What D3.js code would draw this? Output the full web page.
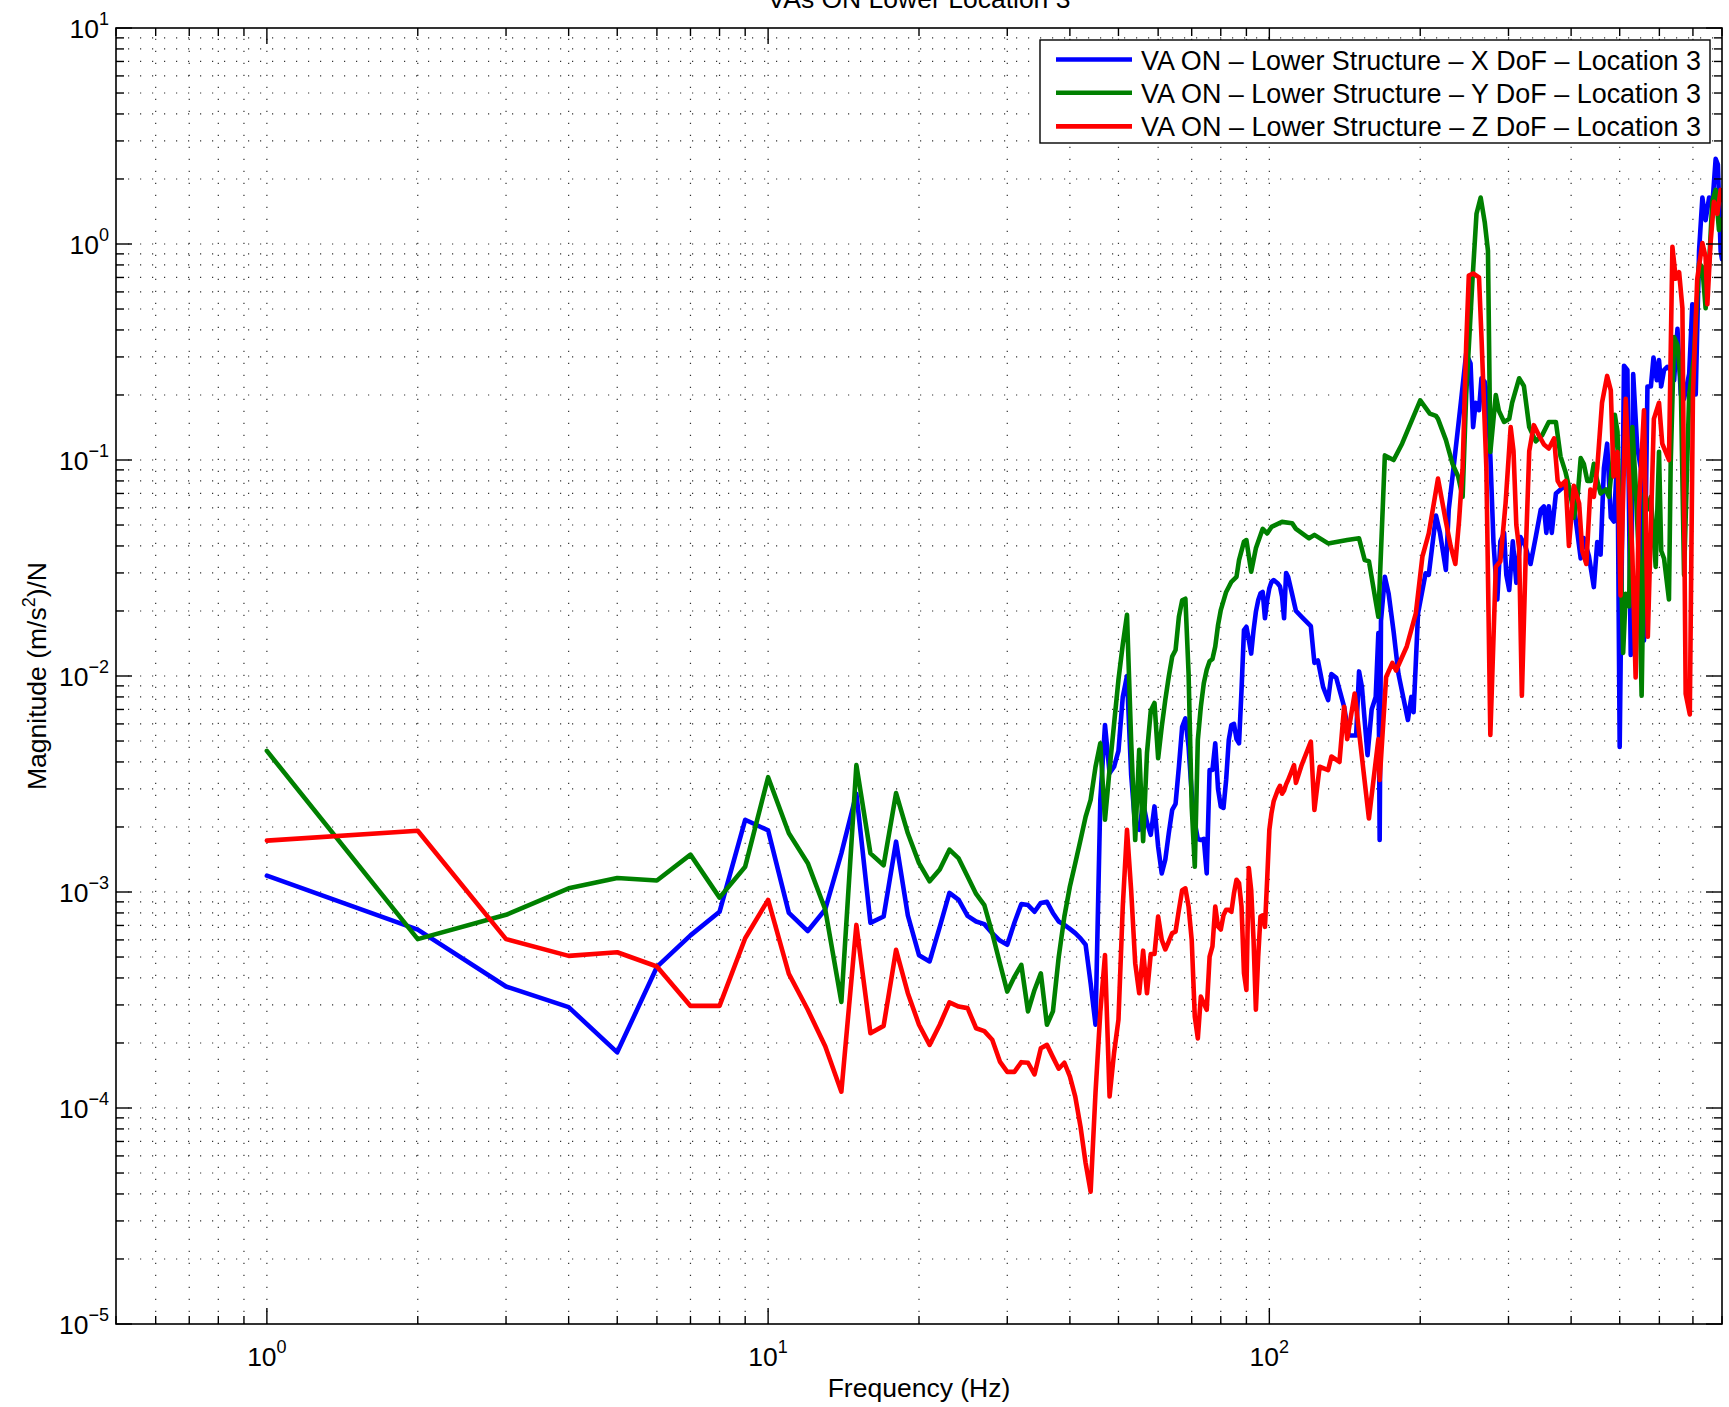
<!DOCTYPE html>
<html><head><meta charset="utf-8">
<script src="https://cdn.jsdelivr.net/npm/d3@7"></script>
<style>
body{margin:0;background:#fff}
svg{display:block}
text{font-family:"Liberation Sans",Arial,Helvetica,sans-serif;fill:#000}
</style>
</head><body>
<svg id="chart" width="1729" height="1407"></svg>
<script>
// ---------------- DATA ----------------
const titleText = "VAs ON Lower Location 3";
const xLabelText = "Frequency (Hz)";
const seriesNames = [
  "VA ON \u2013 Lower Structure \u2013 X DoF \u2013 Location 3",
  "VA ON \u2013 Lower Structure \u2013 Y DoF \u2013 Location 3",
  "VA ON \u2013 Lower Structure \u2013 Z DoF \u2013 Location 3"
];
const seriesColors = ["#0000ff", "#008000", "#ff0000"];
const xMajorTicks = [1, 10, 100];
const xTickExponents = ["0", "1", "2"];
const yMajorTicks = [1e-5, 1e-4, 1e-3, 1e-2, 1e-1, 1, 10];
const yTickExponents = ["\u22125", "\u22124", "\u22123", "\u22122", "\u22121", "0", "1"];

const freqX = [1,2,3,4,5,6,7,8,9,10,11,12,13,14,15,16,17,18,19,20,21,22,23,24,25,26,27,28,29,30,
 31,32,33,34,35,36,37,38,39,40,41,42,43,44,45,46,47,48,49,50,51,52,53,54,55,56,57,58,59,60,
 61,62,63,64,65,66,67,68,69,70,71,72,73,74,75,76,77,78,79,80,81,82,83,84,85,86,87,88,89,90,
 91,92,93,94,95,96,97,98,99,100,101,102,103,104,105,106,107,108,109,
 111,113,116,121,123,125,128,131,133,136,141,144,149,151,153,157,160,163,165,166,167,170,173,177,181,189,192,194,198,205,
 208,215,219,225,228,235,241,247,252,255,258,262,265,269,272,276,280,285,289,294,297,301,306,311,317,324,332,340,348,353,
 357,361,366,373,381,390,399,405,418,424,434,444,451,458,465,472,480,487,495,500,510,518,526,532,542,551,559,568,577,584,
 593,599,605,613,622,632,642,652,662,672,688,698,709,720,731,742,754,765,777,785,795,800];
const magX = [1.19e-3,6.7e-4,3.65e-4,2.93e-4,1.81e-4,4.5e-4,6.3e-4,8.1e-4,2.16e-3,1.93e-3,
 8.0e-4,6.6e-4,8.3e-4,1.51e-3,2.85e-3,7.2e-4,7.7e-4,1.71e-3,7.8e-4,5.1e-4,
 4.77e-4,6.9e-4,9.9e-4,9.2e-4,7.75e-4,7.3e-4,7.1e-4,6.45e-4,5.96e-4,5.7e-4,
 7.2e-4,8.8e-4,8.7e-4,8.1e-4,8.9e-4,9.0e-4,8.0e-4,7.3e-4,7.05e-4,6.75e-4,
 6.45e-4,6.1e-4,5.7e-4,3.78e-4,2.43e-4,2.67e-3,5.93e-3,3.55e-3,3.8e-3,4.5e-3,
 8.0e-3,1.0e-2,3.5e-3,2.01e-3,1.94e-3,2.58e-3,2.1e-3,1.84e-3,2.49e-3,1.62e-3,
 1.22e-3,1.41e-3,1.87e-3,2.4e-3,2.56e-3,3.8e-3,5.82e-3,6.36e-3,4.71e-3,2.87e-3,
 2.1e-3,1.76e-3,1.74e-3,1.76e-3,1.22e-3,3.67e-3,3.67e-3,4.88e-3,3.0e-3,2.49e-3,
 2.45e-3,3.3e-3,5.06e-3,5.93e-3,6.0e-3,5.1e-3,4.88e-3,8.6e-3,1.63e-2,1.69e-2,
 1.47e-2,1.27e-2,1.63e-2,1.98e-2,2.24e-2,2.41e-2,2.45e-2,1.85e-2,2.24e-2,2.55e-2,
 2.73e-2,2.78e-2,2.73e-2,2.68e-2,2.6e-2,2.33e-2,1.85e-2,3.0e-2,2.88e-2,
 2.4e-2,2.0e-2,1.88e-2,1.7e-2,1.15e-2,1.18e-2,8.9e-3,7.74e-3,1.02e-2,9.8e-3,7.2e-3,5.3e-3,5.3e-3,1.05e-2,8.9e-3,4.3e-3,7.0e-3,8.0e-3,1.58e-2,1.74e-3,1.8e-2,2.88e-2,2.4e-2,1.6e-2,1.02e-2,6.26e-3,8.0e-3,6.8e-3,1.95e-2,2.99e-2,
 2.94e-2,5.53e-2,4.6e-2,3.1e-2,5.9e-2,0.109,0.184,0.311,0.28,0.142,0.184,0.17,0.239,0.23,0.2,0.104,4.17e-2,2.26e-2,4.2e-2,4.6e-2,2.94e-2,2.5e-2,4.2e-2,2.7e-2,4.4e-2,4.0e-2,3.3e-2,4.4e-2,5.9e-2,6.1e-2,
 4.6e-2,6.1e-2,4.6e-2,7.0e-2,7.3e-2,7.6e-2,6.75e-2,6.2e-2,3.5e-2,4.35e-2,3.6e-2,2.58e-2,4.17e-2,3.65e-2,9.15e-2,0.119,5.42e-2,5.19e-2,0.109,4.69e-3,0.273,0.261,1.25e-2,0.25,0.114,9.15e-2,1.46e-2,0.219,0.219,0.298,
 0.234,0.29,0.219,0.261,0.27,0.261,0.234,0.405,0.201,0.192,0.25,0.526,0.201,0.928,1.64,1.29,1.64,1.5,2.48,2.33,0.928,0.85];

const freqY = [1,2,3,4,5,6,7,8,9,10,11,12,13,14,15,16,17,18,19,20,21,22,23,24,25,26,27,28,29,30,
 31,32,33,34,35,36,37,38,39,40,41,42,43,44,45,46,47,48,49,50,51,52,53,54,55,56,57,58,59,60,
 61,62,63,64,65,66,67,68,69,70,71,72,73,74,75,76,77,78,79,80,
 82,84,86,87,89,90,92,94,97,99,101,106,111,113,120,123,131,143,151,155,158,165,170,177,184,200,209,215,217,225,
 232,238,243,247,254,259,264,269,273,276,283,287,294,301,305,315,322,330,340,350,361,373,381,390,399,405,412,418,424,431,
 438,444,451,458,469,476,484,489,495,502,508,514,522,530,538,546,553,561,568,577,590,599,605,613,627,632,642,652,662,672,
 688,703,720,731,742,754,765,777,789,800];
const magY = [4.5e-3,6.05e-4,7.84e-4,1.04e-3,1.16e-3,1.13e-3,1.49e-3,9.42e-4,1.31e-3,3.4e-3,
 1.87e-3,1.36e-3,8.3e-4,3.1e-4,3.87e-3,1.51e-3,1.33e-3,2.87e-3,1.87e-3,1.36e-3,
 1.12e-3,1.27e-3,1.57e-3,1.43e-3,1.18e-3,9.8e-4,8.7e-4,6.45e-4,4.68e-4,3.46e-4,
 4.05e-4,4.6e-4,2.8e-4,3.52e-4,4.2e-4,2.43e-4,2.8e-4,5.0e-4,7.7e-4,1.06e-3,
 1.36e-3,1.74e-3,2.23e-3,2.67e-3,3.8e-3,4.88e-3,2.16e-3,3.7e-3,6.0e-3,9.6e-3,
 1.4e-2,1.92e-2,5.0e-3,1.74e-3,4.55e-3,1.72e-3,4.4e-3,6.9e-3,7.5e-3,4.16e-3,
 5.82e-3,7.74e-3,9.93e-3,1.23e-2,1.32e-2,1.88e-2,2.24e-2,2.28e-2,1.03e-2,2.49e-3,
 1.31e-3,5.06e-3,7.21e-3,9.25e-3,1.07e-2,1.17e-2,1.2e-2,1.37e-2,1.72e-2,2.02e-2,
 2.45e-2,2.73e-2,2.88e-2,3.44e-2,4.19e-2,4.26e-2,3.04e-2,3.9e-2,4.8e-2,4.57e-2,4.9e-2,5.17e-2,5.1e-2,4.8e-2,4.34e-2,4.5e-2,4.11e-2,4.26e-2,4.34e-2,3.44e-2,3.4e-2,1.88e-2,0.105,0.1,0.119,0.189,0.164,0.16,0.155,0.124,
 9.6e-2,8.4e-2,6.75e-2,0.2,0.655,1.38,1.64,1.26,0.93,0.109,0.2,0.169,0.15,0.155,0.184,0.239,0.22,0.142,0.122,0.13,0.15,0.15,0.104,8.76e-2,7.0e-2,5.4e-2,6.75e-2,0.102,9.6e-2,8.0e-2,
 8.0e-2,9.6e-2,8.0e-2,7.0e-2,7.3e-2,6.75e-2,0.1,0.162,0.135,3.8e-2,1.28e-2,2.4e-2,2.1e-2,0.142,7.7e-2,3.5e-2,8.1e-3,7.0e-2,5.9e-2,6.75e-2,3.2e-2,0.109,3.8e-2,3.5e-2,2.26e-2,9.6e-2,0.371,0.34,0.23,2.94e-2,
 0.2,0.298,0.814,0.78,0.504,0.81,1.57,1.78,1.16,1.3];

const freqZ = [1,2,3,4,5,6,7,8,9,10,11,12,13,14,15,16,17,18,19,20,21,22,23,24,25,26,27,28,29,30,
 31,32,33,34,35,36,37,38,39,40,41,42,43,44,45,46,47,48,49,50,51,52,53,54,55,56,57,58,59,60,
 61,62,63,64,65,66,67,68,69,70,71,72,73,74,75,76,77,78,79,80,81,82,83,84,85,86,87,88,89,90,
 91,92,93,94,95,96,97,98,99,100,101,102,103,104,105,106,107,108,109,
 112,113,116,121,123,126,131,133,138,141,143,148,151,158,165,166,171,176,179,188,196,202,208,217,225,230,235,239,243,247,
 250,255,262,265,271,276,283,289,296,303,307,311,315,319,325,330,337,345,353,361,370,376,381,390,396,405,415,421,429,437,
 444,451,461,472,480,486,495,502,514,522,530,538,546,559,569,585,599,608,627,637,647,657,667,677,690,700,714,731,742,748,
 759,771,783,795,800];
const magZ = [1.73e-3,1.92e-3,6.05e-4,5.06e-4,5.26e-4,4.52e-4,2.97e-4,2.97e-4,6.11e-4,9.19e-4,
 4.18e-4,2.85e-4,1.93e-4,1.19e-4,7.04e-4,2.22e-4,2.4e-4,5.4e-4,3.4e-4,2.43e-4,
 1.96e-4,2.43e-4,3.08e-4,2.95e-4,2.9e-4,2.34e-4,2.27e-4,2.07e-4,1.64e-4,1.47e-4,
 1.47e-4,1.63e-4,1.62e-4,1.43e-4,1.89e-4,1.96e-4,1.72e-4,1.52e-4,1.62e-4,1.4e-4,
 1.13e-4,8.2e-5,5.56e-5,4.1e-5,1.18e-4,2.78e-4,5.1e-4,1.13e-4,1.8e-4,2.56e-4,
 8.56e-4,1.94e-3,1.02e-3,4.68e-4,3.4e-4,5.35e-4,3.4e-4,5.16e-4,5.16e-4,7.7e-4,
 6.0e-4,5.42e-4,5.9e-4,6.45e-4,6.55e-4,8.27e-4,1.02e-3,1.04e-3,8.56e-4,6.0e-4,
 2.65e-4,2.1e-4,3.28e-4,3.05e-4,2.85e-4,5.02e-4,5.6e-4,8.56e-4,6.92e-4,6.7e-4,
 7.8e-4,8.27e-4,8.27e-4,8.1e-4,9.87e-4,1.14e-3,1.1e-3,8.56e-4,4.21e-4,3.52e-4,
 1.29e-3,1.02e-3,6.0e-4,2.85e-4,5.0e-4,7.7e-4,7.8e-4,6.9e-4,1.14e-3,1.94e-3,
 2.32e-3,2.63e-3,2.8e-3,2.97e-3,3.1e-3,2.85e-3,2.95e-3,3.15e-3,3.3e-3,
 3.87e-3,3.2e-3,3.87e-3,4.97e-3,2.4e-3,3.8e-3,3.67e-3,4.24e-3,4.0e-3,7.2e-3,5.1e-3,8.3e-3,5.5e-3,2.19e-3,5.1e-3,3.3e-3,9.9e-3,1.15e-2,1.06e-2,1.37e-2,1.95e-2,3.57e-2,4.57e-2,8.2e-2,5.19e-2,3.99e-2,3.3e-2,5.2e-2,9.16e-2,0.34,
 0.714,0.73,0.7,0.37,9.2e-2,5.34e-3,3.2e-2,3.4e-2,6.3e-2,0.142,0.11,5.0e-2,3.9e-2,8.1e-3,3.9e-2,0.11,0.145,0.13,0.118,0.113,0.126,8.0e-2,7.6e-2,8.0e-2,4.0e-2,7.6e-2,6.3e-2,3.8e-2,3.3e-2,7.3e-2,
 6.75e-2,9.15e-2,0.184,0.245,0.21,8.4e-2,0.109,2.36e-2,0.192,8.4e-2,3.65e-2,9.85e-3,5.9e-2,0.17,1.52e-2,0.155,0.184,0.119,0.1,0.97,0.69,0.74,0.504,8.27e-3,6.64e-3,0.2,0.69,1.01,0.87,0.526,
 1.01,1.57,1.38,1.78,1.6];

// ---------------- LAYOUT ----------------
const W = 1729, H = 1407;
const L = 116, R = 1722, T = 28, B = 1324;
const svg = d3.select("#chart");
const x = d3.scaleLog().domain([0.5, 800]).range([L, R]);
const y = d3.scaleLog().domain([1e-5, 10]).range([B, T]);

const xGridVals = [];
[0.1, 1, 10, 100].forEach(d => { for (let k = 1; k <= 9; k++) { const v = k * d; if (v >= 0.5 && v <= 800) xGridVals.push(v); } });
const yGridVals = [];
[1e-5, 1e-4, 1e-3, 1e-2, 1e-1, 1].forEach(d => { for (let k = 1; k <= 9; k++) yGridVals.push(k * d); });
yGridVals.push(10);
const isMajorX = v => xMajorTicks.some(m => Math.abs(m - v) < 1e-9);
const isMajorY = v => yMajorTicks.some(m => Math.abs(m / v - 1) < 1e-6);

// grid (dotted)
const grid = svg.append("g");
xGridVals.forEach(v => {
  if (x(v) <= L + 0.5 || x(v) >= R - 0.5) return;
  grid.append("line").attr("x1", x(v)).attr("x2", x(v)).attr("y1", B).attr("y2", T)
    .attr("stroke", "#333").attr("stroke-width", 1.2).attr("stroke-dasharray", "1.2,10.8");
});
yGridVals.forEach(v => {
  if (y(v) >= B - 0.5 || y(v) <= T + 0.5) return;
  grid.append("line").attr("x1", L).attr("x2", R).attr("y1", y(v)).attr("y2", y(v))
    .attr("stroke", "#333").attr("stroke-width", 1.2).attr("stroke-dasharray", "1.2,10.8");
});

// data lines
svg.append("defs").append("clipPath").attr("id", "plotclip")
  .append("rect").attr("x", L).attr("y", T).attr("width", R - L).attr("height", B - T);
const line = d3.line().x(d => x(d[0])).y(d => y(d[1]));
const series = [d3.zip(freqX, magX), d3.zip(freqY, magY), d3.zip(freqZ, magZ)];
const plotG = svg.append("g").attr("clip-path", "url(#plotclip)");
series.forEach((s, i) => {
  plotG.append("path").datum(s).attr("d", line).attr("fill", "none")
    .attr("stroke", seriesColors[i]).attr("stroke-width", 4.6)
    .attr("stroke-linejoin", "round").attr("stroke-linecap", "round");
});

// box
svg.append("rect").attr("x", L).attr("y", T).attr("width", R - L).attr("height", B - T)
  .attr("fill", "none").attr("stroke", "#000").attr("stroke-width", 1.6);

// ticks
const tk = svg.append("g").attr("stroke", "#000").attr("stroke-width", 1.4);
xGridVals.forEach(v => {
  const len = isMajorX(v) ? 16 : 8;
  tk.append("line").attr("x1", x(v)).attr("x2", x(v)).attr("y1", B).attr("y2", B - len);
  tk.append("line").attr("x1", x(v)).attr("x2", x(v)).attr("y1", T).attr("y2", T + len);
});
yGridVals.forEach(v => {
  const len = isMajorY(v) ? 16 : 8;
  tk.append("line").attr("x1", L).attr("x2", L + len).attr("y1", y(v)).attr("y2", y(v));
  tk.append("line").attr("x1", R).attr("x2", R - len).attr("y1", y(v)).attr("y2", y(v));
});

// tick labels
xMajorTicks.forEach((v, i) => {
  const t = svg.append("text").attr("x", x(v)).attr("y", 1366).attr("text-anchor", "middle")
    .attr("font-size", 26.5).text("10");
  t.append("tspan").attr("dy", -13).attr("font-size", 18).text(xTickExponents[i]);
});
yMajorTicks.forEach((v, i) => {
  const t = svg.append("text").attr("x", 109).attr("y", y(v) + 10).attr("text-anchor", "end")
    .attr("font-size", 26.5).text("10");
  t.append("tspan").attr("dy", -13).attr("font-size", 18).text(yTickExponents[i]);
});

// axis labels & title
svg.append("text").attr("x", (L + R) / 2).attr("y", 1397).attr("text-anchor", "middle")
  .attr("font-size", 26.5).text(xLabelText);
const yl = svg.append("text").attr("transform", `translate(46,${(T + B) / 2}) rotate(-90)`)
  .attr("text-anchor", "middle").attr("font-size", 26.5);
yl.append("tspan").text("Magnitude (m/s");
yl.append("tspan").attr("dy", -11).attr("font-size", 18).text("2");
yl.append("tspan").attr("dy", 11).text(")/N");
svg.append("text").attr("x", (L + R) / 2).attr("y", 8).attr("text-anchor", "middle")
  .attr("font-size", 26.5).text(titleText);

// legend
const lg = svg.append("g");
lg.append("rect").attr("x", 1040).attr("y", 40).attr("width", 670).attr("height", 103)
  .attr("fill", "#fff").attr("stroke", "#000").attr("stroke-width", 1.4);
const rowY = [59.5, 92.8, 126.4];
seriesNames.forEach((name, i) => {
  lg.append("line").attr("x1", 1056).attr("x2", 1132).attr("y1", rowY[i]).attr("y2", rowY[i])
    .attr("stroke", seriesColors[i]).attr("stroke-width", 4.6);
  lg.append("text").attr("x", 1141).attr("y", rowY[i] + 10).attr("font-size", 27)
    .attr("textLength", 560).attr("lengthAdjust", "spacingAndGlyphs").text(name);
});
</script>
</body></html>
